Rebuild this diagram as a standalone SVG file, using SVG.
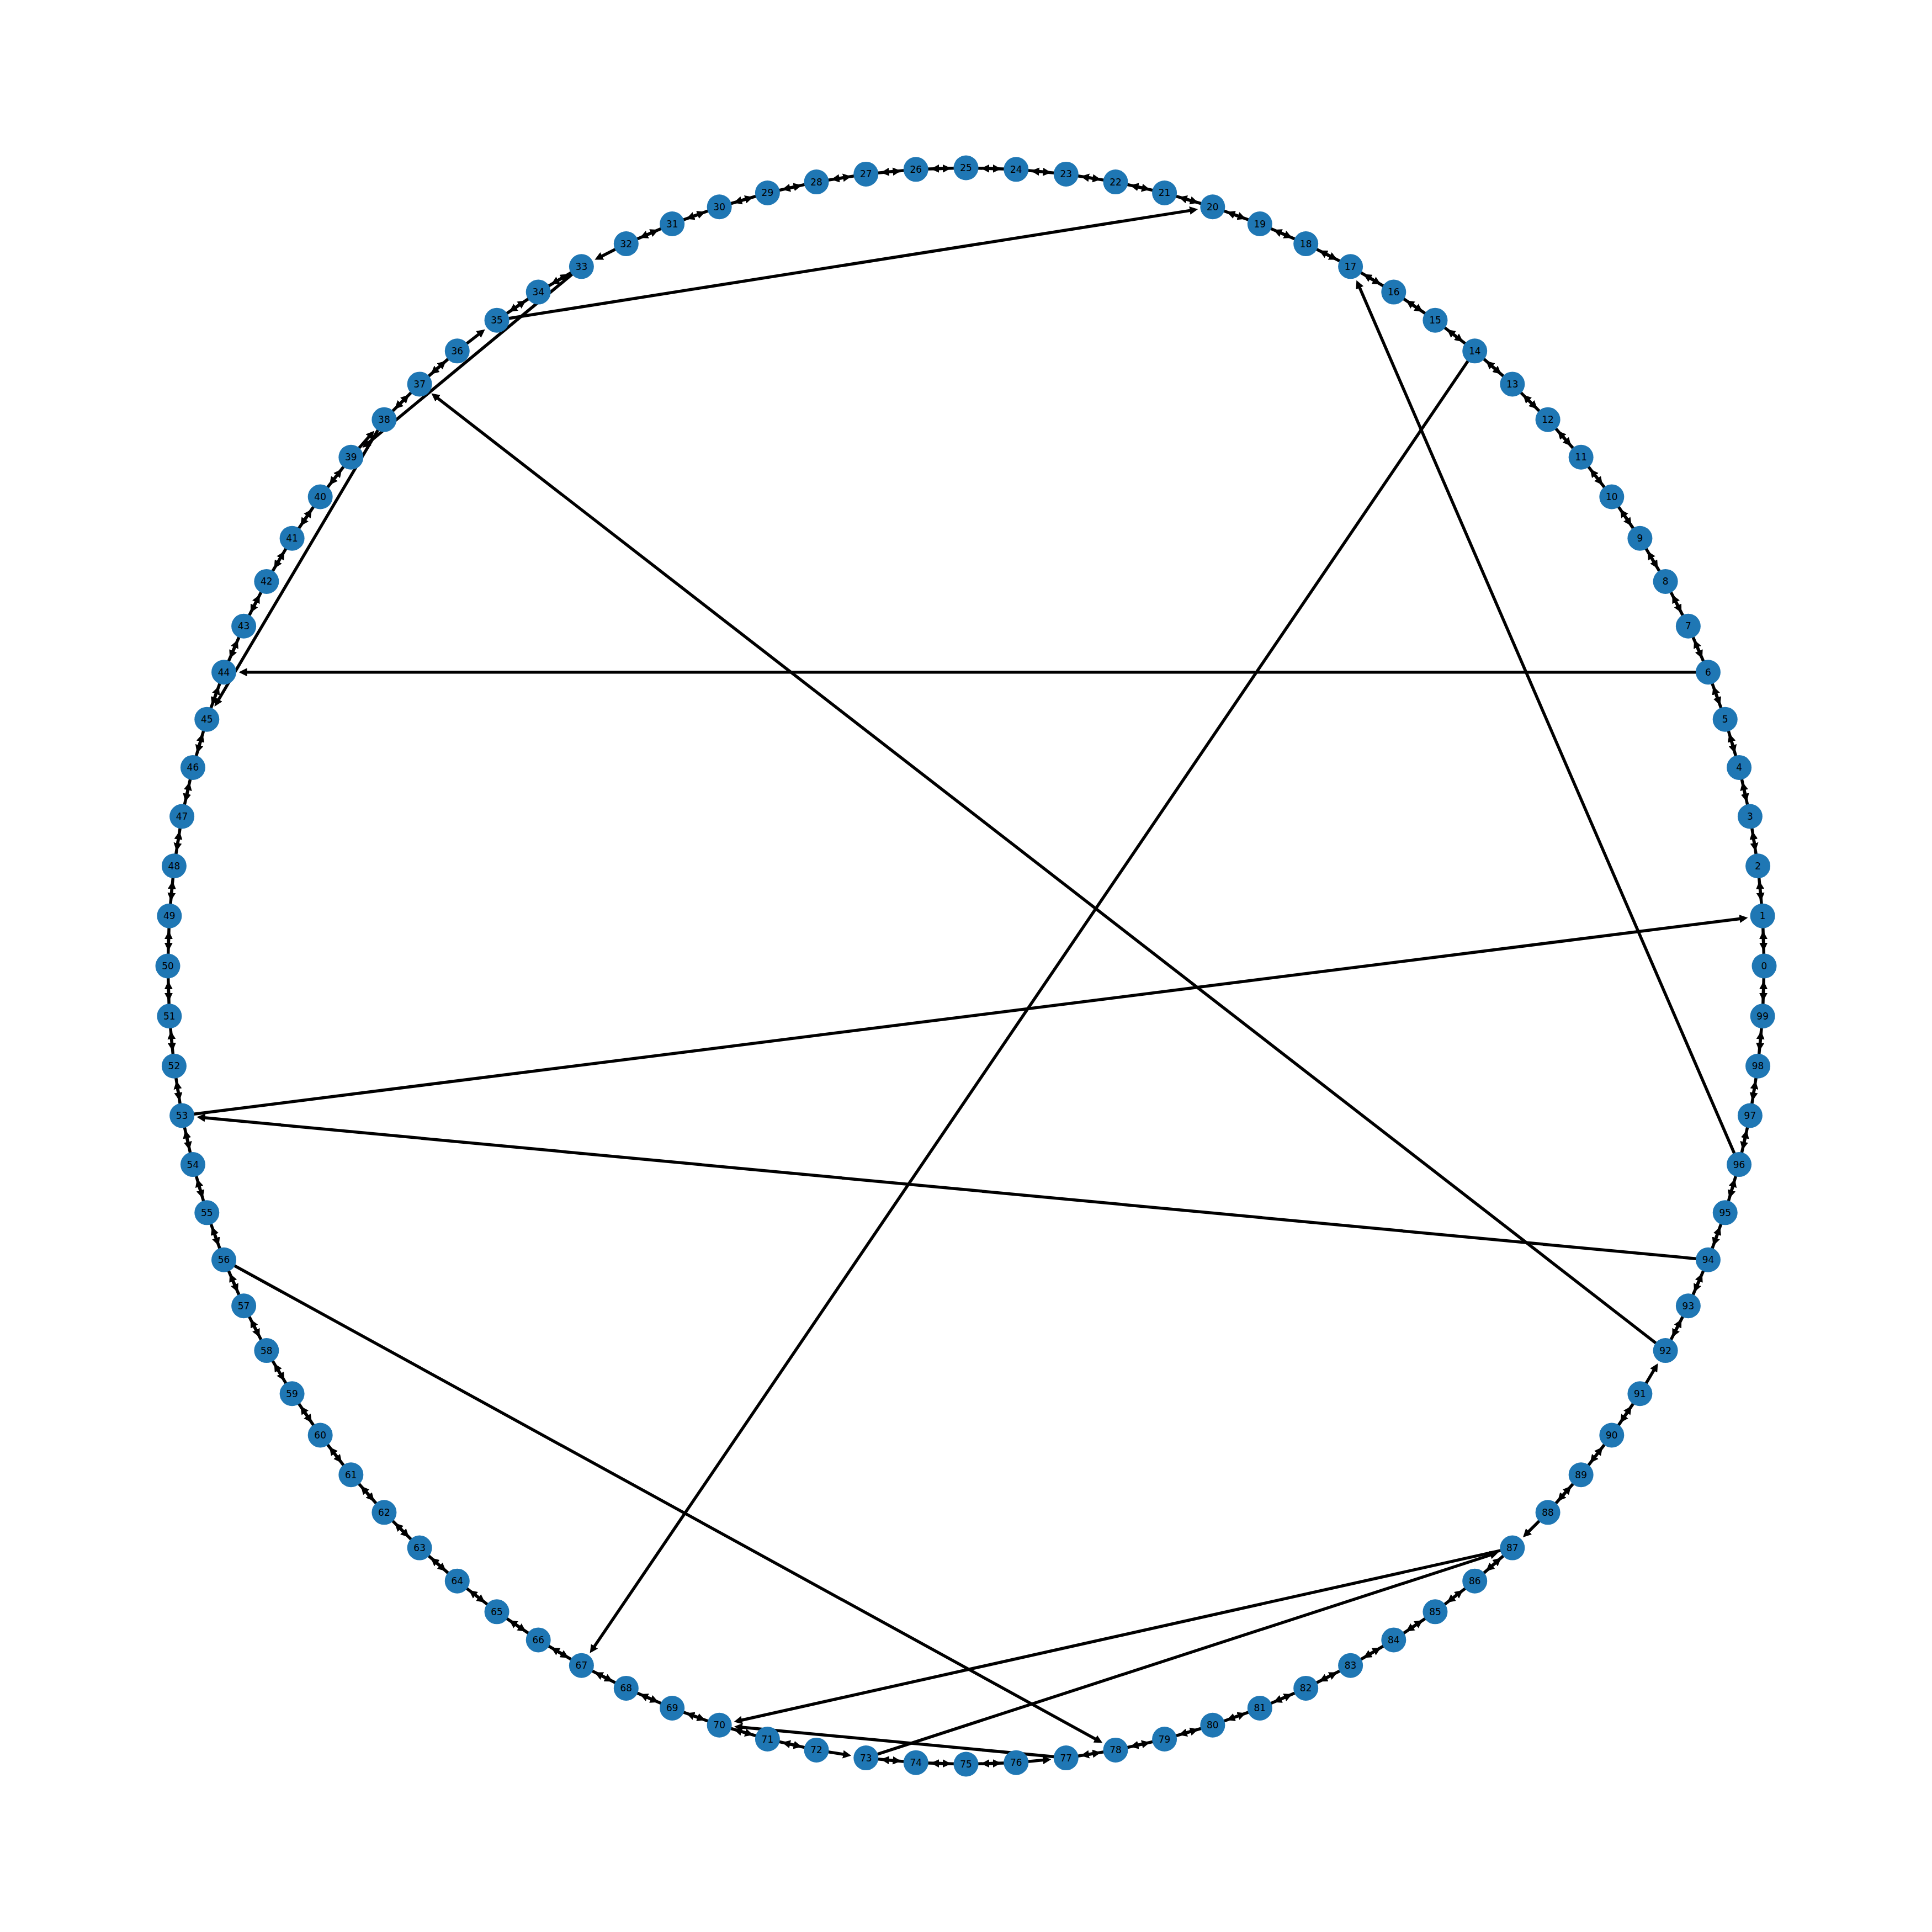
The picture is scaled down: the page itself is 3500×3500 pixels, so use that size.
<svg xmlns="http://www.w3.org/2000/svg" xmlns:xlink="http://www.w3.org/1999/xlink" width="3500" height="3500" viewBox="0 0 3500 3500">
<style>
.e{stroke:#000;stroke-width:5.5;fill:none}
.n circle{fill:#1f77b4}
.n text{font-family:"DejaVu Sans",sans-serif;font-size:17px;fill:#000;text-anchor:middle;dominant-baseline:central}
</style>
<defs>
<marker id="a" markerUnits="userSpaceOnUse" markerWidth="15" markerHeight="15" viewBox="0 0 15 15" refX="2" refY="7.5" orient="auto"><path d="M0,0 L15,7.5 L0,15 z" fill="#000"/></marker>
<line id="f" class="e" x1="3195.3" y1="1795.4" x2="3195.3" y2="1744.6" marker-end="url(#a)"/>
<line id="b" class="e" x1="3195.3" y1="1704.6" x2="3195.3" y2="1755.4" marker-end="url(#a)"/>
<g id="d"><use href="#f"/><use href="#b"/></g>
</defs>
<rect width="3500" height="3500" fill="#fff"/>
<g id="edges">
<use href="#d" transform="rotate(-1.8 1750 1750)"/>
<use href="#d" transform="rotate(-5.4 1750 1750)"/>
<use href="#d" transform="rotate(-9 1750 1750)"/>
<use href="#d" transform="rotate(-12.6 1750 1750)"/>
<use href="#d" transform="rotate(-16.2 1750 1750)"/>
<use href="#d" transform="rotate(-19.8 1750 1750)"/>
<use href="#d" transform="rotate(-23.4 1750 1750)"/>
<use href="#d" transform="rotate(-27 1750 1750)"/>
<use href="#d" transform="rotate(-30.6 1750 1750)"/>
<use href="#d" transform="rotate(-34.2 1750 1750)"/>
<use href="#d" transform="rotate(-37.8 1750 1750)"/>
<use href="#d" transform="rotate(-41.4 1750 1750)"/>
<use href="#d" transform="rotate(-45 1750 1750)"/>
<use href="#d" transform="rotate(-48.6 1750 1750)"/>
<use href="#d" transform="rotate(-52.2 1750 1750)"/>
<use href="#d" transform="rotate(-55.8 1750 1750)"/>
<use href="#d" transform="rotate(-59.4 1750 1750)"/>
<use href="#d" transform="rotate(-63 1750 1750)"/>
<use href="#d" transform="rotate(-66.6 1750 1750)"/>
<use href="#d" transform="rotate(-70.2 1750 1750)"/>
<use href="#d" transform="rotate(-73.8 1750 1750)"/>
<use href="#d" transform="rotate(-77.4 1750 1750)"/>
<use href="#d" transform="rotate(-81 1750 1750)"/>
<use href="#d" transform="rotate(-84.6 1750 1750)"/>
<use href="#d" transform="rotate(-88.2 1750 1750)"/>
<use href="#d" transform="rotate(-91.8 1750 1750)"/>
<use href="#d" transform="rotate(-95.4 1750 1750)"/>
<use href="#d" transform="rotate(-99 1750 1750)"/>
<use href="#d" transform="rotate(-102.6 1750 1750)"/>
<use href="#d" transform="rotate(-106.2 1750 1750)"/>
<use href="#d" transform="rotate(-109.8 1750 1750)"/>
<use href="#d" transform="rotate(-113.4 1750 1750)"/>
<use href="#f" transform="rotate(-117 1750 1750)"/>
<use href="#d" transform="rotate(-120.6 1750 1750)"/>
<use href="#d" transform="rotate(-124.2 1750 1750)"/>
<use href="#b" transform="rotate(-127.8 1750 1750)"/>
<use href="#d" transform="rotate(-131.4 1750 1750)"/>
<use href="#d" transform="rotate(-135 1750 1750)"/>
<use href="#b" transform="rotate(-138.6 1750 1750)"/>
<use href="#d" transform="rotate(-142.2 1750 1750)"/>
<use href="#d" transform="rotate(-145.8 1750 1750)"/>
<use href="#d" transform="rotate(-149.4 1750 1750)"/>
<use href="#d" transform="rotate(-153 1750 1750)"/>
<use href="#d" transform="rotate(-156.6 1750 1750)"/>
<use href="#d" transform="rotate(-160.2 1750 1750)"/>
<use href="#d" transform="rotate(-163.8 1750 1750)"/>
<use href="#d" transform="rotate(-167.4 1750 1750)"/>
<use href="#d" transform="rotate(-171 1750 1750)"/>
<use href="#d" transform="rotate(-174.6 1750 1750)"/>
<use href="#d" transform="rotate(-178.2 1750 1750)"/>
<use href="#d" transform="rotate(-181.8 1750 1750)"/>
<use href="#d" transform="rotate(-185.4 1750 1750)"/>
<use href="#d" transform="rotate(-189 1750 1750)"/>
<use href="#d" transform="rotate(-192.6 1750 1750)"/>
<use href="#d" transform="rotate(-196.2 1750 1750)"/>
<use href="#d" transform="rotate(-199.8 1750 1750)"/>
<use href="#d" transform="rotate(-203.4 1750 1750)"/>
<use href="#d" transform="rotate(-207 1750 1750)"/>
<use href="#d" transform="rotate(-210.6 1750 1750)"/>
<use href="#d" transform="rotate(-214.2 1750 1750)"/>
<use href="#d" transform="rotate(-217.8 1750 1750)"/>
<use href="#d" transform="rotate(-221.4 1750 1750)"/>
<use href="#d" transform="rotate(-225 1750 1750)"/>
<use href="#d" transform="rotate(-228.6 1750 1750)"/>
<use href="#d" transform="rotate(-232.2 1750 1750)"/>
<use href="#d" transform="rotate(-235.8 1750 1750)"/>
<use href="#d" transform="rotate(-239.4 1750 1750)"/>
<use href="#d" transform="rotate(-243 1750 1750)"/>
<use href="#d" transform="rotate(-246.6 1750 1750)"/>
<use href="#d" transform="rotate(-250.2 1750 1750)"/>
<use href="#d" transform="rotate(-253.8 1750 1750)"/>
<use href="#d" transform="rotate(-257.4 1750 1750)"/>
<use href="#f" transform="rotate(-261 1750 1750)"/>
<use href="#d" transform="rotate(-264.6 1750 1750)"/>
<use href="#d" transform="rotate(-268.2 1750 1750)"/>
<use href="#d" transform="rotate(-271.8 1750 1750)"/>
<use href="#f" transform="rotate(-275.4 1750 1750)"/>
<use href="#d" transform="rotate(-279 1750 1750)"/>
<use href="#d" transform="rotate(-282.6 1750 1750)"/>
<use href="#d" transform="rotate(-286.2 1750 1750)"/>
<use href="#d" transform="rotate(-289.8 1750 1750)"/>
<use href="#d" transform="rotate(-293.4 1750 1750)"/>
<use href="#d" transform="rotate(-297 1750 1750)"/>
<use href="#d" transform="rotate(-300.6 1750 1750)"/>
<use href="#d" transform="rotate(-304.2 1750 1750)"/>
<use href="#d" transform="rotate(-307.8 1750 1750)"/>
<use href="#d" transform="rotate(-311.4 1750 1750)"/>
<use href="#b" transform="rotate(-315 1750 1750)"/>
<use href="#d" transform="rotate(-318.6 1750 1750)"/>
<use href="#d" transform="rotate(-322.2 1750 1750)"/>
<use href="#d" transform="rotate(-325.8 1750 1750)"/>
<use href="#f" transform="rotate(-329.4 1750 1750)"/>
<use href="#d" transform="rotate(-333 1750 1750)"/>
<use href="#d" transform="rotate(-336.6 1750 1750)"/>
<use href="#d" transform="rotate(-340.2 1750 1750)"/>
<use href="#d" transform="rotate(-343.8 1750 1750)"/>
<use href="#d" transform="rotate(-347.4 1750 1750)"/>
<use href="#d" transform="rotate(-351 1750 1750)"/>
<use href="#d" transform="rotate(-354.6 1750 1750)"/>
<use href="#d" transform="rotate(-358.2 1750 1750)"/>
<line class="e" x1="900.1" y1="580.2" x2="2157.3" y2="381.1" marker-end="url(#a)"/>
<line class="e" x1="1053.4" y1="482.9" x2="666.6" y2="802.8" marker-end="url(#a)"/>
<line class="e" x1="695.9" y1="760.1" x2="395.2" y2="1268.8" marker-end="url(#a)"/>
<line class="e" x1="3094.5" y1="1217.7" x2="445.5" y2="1217.7" marker-end="url(#a)"/>
<line class="e" x1="3017.1" y1="2446.6" x2="791.7" y2="720.4" marker-end="url(#a)"/>
<line class="e" x1="3150.6" y1="2109.6" x2="2462.5" y2="519.6" marker-end="url(#a)"/>
<line class="e" x1="2671.7" y1="635.8" x2="1075.9" y2="2984.0" marker-end="url(#a)"/>
<line class="e" x1="329.6" y1="2021.0" x2="3153.5" y2="1664.2" marker-end="url(#a)"/>
<line class="e" x1="3094.5" y1="2282.3" x2="369.4" y2="2024.8" marker-end="url(#a)"/>
<line class="e" x1="405.5" y1="2282.3" x2="1985.8" y2="3151.1" marker-end="url(#a)"/>
<line class="e" x1="2739.9" y1="2804.1" x2="1342.2" y2="3116.5" marker-end="url(#a)"/>
<line class="e" x1="1568.8" y1="3184.6" x2="2701.9" y2="2816.5" marker-end="url(#a)"/>
<line class="e" x1="1931.2" y1="3184.6" x2="1343.0" y2="3129.0" marker-end="url(#a)"/>
</g>
<g id="nodes">
<g id="n0" class="n" transform="rotate(0 1750 1750) translate(3196 1750) rotate(0)"><circle r="22.5"/><text>0</text></g>
<g id="n1" class="n" transform="rotate(-3.6 1750 1750) translate(3196 1750) rotate(3.6)"><circle r="22.5"/><text>1</text></g>
<g id="n2" class="n" transform="rotate(-7.2 1750 1750) translate(3196 1750) rotate(7.2)"><circle r="22.5"/><text>2</text></g>
<g id="n3" class="n" transform="rotate(-10.8 1750 1750) translate(3196 1750) rotate(10.8)"><circle r="22.5"/><text>3</text></g>
<g id="n4" class="n" transform="rotate(-14.4 1750 1750) translate(3196 1750) rotate(14.4)"><circle r="22.5"/><text>4</text></g>
<g id="n5" class="n" transform="rotate(-18 1750 1750) translate(3196 1750) rotate(18)"><circle r="22.5"/><text>5</text></g>
<g id="n6" class="n" transform="rotate(-21.6 1750 1750) translate(3196 1750) rotate(21.6)"><circle r="22.5"/><text>6</text></g>
<g id="n7" class="n" transform="rotate(-25.2 1750 1750) translate(3196 1750) rotate(25.2)"><circle r="22.5"/><text>7</text></g>
<g id="n8" class="n" transform="rotate(-28.8 1750 1750) translate(3196 1750) rotate(28.8)"><circle r="22.5"/><text>8</text></g>
<g id="n9" class="n" transform="rotate(-32.4 1750 1750) translate(3196 1750) rotate(32.4)"><circle r="22.5"/><text>9</text></g>
<g id="n10" class="n" transform="rotate(-36 1750 1750) translate(3196 1750) rotate(36)"><circle r="22.5"/><text>10</text></g>
<g id="n11" class="n" transform="rotate(-39.6 1750 1750) translate(3196 1750) rotate(39.6)"><circle r="22.5"/><text>11</text></g>
<g id="n12" class="n" transform="rotate(-43.2 1750 1750) translate(3196 1750) rotate(43.2)"><circle r="22.5"/><text>12</text></g>
<g id="n13" class="n" transform="rotate(-46.8 1750 1750) translate(3196 1750) rotate(46.8)"><circle r="22.5"/><text>13</text></g>
<g id="n14" class="n" transform="rotate(-50.4 1750 1750) translate(3196 1750) rotate(50.4)"><circle r="22.5"/><text>14</text></g>
<g id="n15" class="n" transform="rotate(-54 1750 1750) translate(3196 1750) rotate(54)"><circle r="22.5"/><text>15</text></g>
<g id="n16" class="n" transform="rotate(-57.6 1750 1750) translate(3196 1750) rotate(57.6)"><circle r="22.5"/><text>16</text></g>
<g id="n17" class="n" transform="rotate(-61.2 1750 1750) translate(3196 1750) rotate(61.2)"><circle r="22.5"/><text>17</text></g>
<g id="n18" class="n" transform="rotate(-64.8 1750 1750) translate(3196 1750) rotate(64.8)"><circle r="22.5"/><text>18</text></g>
<g id="n19" class="n" transform="rotate(-68.4 1750 1750) translate(3196 1750) rotate(68.4)"><circle r="22.5"/><text>19</text></g>
<g id="n20" class="n" transform="rotate(-72 1750 1750) translate(3196 1750) rotate(72)"><circle r="22.5"/><text>20</text></g>
<g id="n21" class="n" transform="rotate(-75.6 1750 1750) translate(3196 1750) rotate(75.6)"><circle r="22.5"/><text>21</text></g>
<g id="n22" class="n" transform="rotate(-79.2 1750 1750) translate(3196 1750) rotate(79.2)"><circle r="22.5"/><text>22</text></g>
<g id="n23" class="n" transform="rotate(-82.8 1750 1750) translate(3196 1750) rotate(82.8)"><circle r="22.5"/><text>23</text></g>
<g id="n24" class="n" transform="rotate(-86.4 1750 1750) translate(3196 1750) rotate(86.4)"><circle r="22.5"/><text>24</text></g>
<g id="n25" class="n" transform="rotate(-90 1750 1750) translate(3196 1750) rotate(90)"><circle r="22.5"/><text>25</text></g>
<g id="n26" class="n" transform="rotate(-93.6 1750 1750) translate(3196 1750) rotate(93.6)"><circle r="22.5"/><text>26</text></g>
<g id="n27" class="n" transform="rotate(-97.2 1750 1750) translate(3196 1750) rotate(97.2)"><circle r="22.5"/><text>27</text></g>
<g id="n28" class="n" transform="rotate(-100.8 1750 1750) translate(3196 1750) rotate(100.8)"><circle r="22.5"/><text>28</text></g>
<g id="n29" class="n" transform="rotate(-104.4 1750 1750) translate(3196 1750) rotate(104.4)"><circle r="22.5"/><text>29</text></g>
<g id="n30" class="n" transform="rotate(-108 1750 1750) translate(3196 1750) rotate(108)"><circle r="22.5"/><text>30</text></g>
<g id="n31" class="n" transform="rotate(-111.6 1750 1750) translate(3196 1750) rotate(111.6)"><circle r="22.5"/><text>31</text></g>
<g id="n32" class="n" transform="rotate(-115.2 1750 1750) translate(3196 1750) rotate(115.2)"><circle r="22.5"/><text>32</text></g>
<g id="n33" class="n" transform="rotate(-118.8 1750 1750) translate(3196 1750) rotate(118.8)"><circle r="22.5"/><text>33</text></g>
<g id="n34" class="n" transform="rotate(-122.4 1750 1750) translate(3196 1750) rotate(122.4)"><circle r="22.5"/><text>34</text></g>
<g id="n35" class="n" transform="rotate(-126 1750 1750) translate(3196 1750) rotate(126)"><circle r="22.5"/><text>35</text></g>
<g id="n36" class="n" transform="rotate(-129.6 1750 1750) translate(3196 1750) rotate(129.6)"><circle r="22.5"/><text>36</text></g>
<g id="n37" class="n" transform="rotate(-133.2 1750 1750) translate(3196 1750) rotate(133.2)"><circle r="22.5"/><text>37</text></g>
<g id="n38" class="n" transform="rotate(-136.8 1750 1750) translate(3196 1750) rotate(136.8)"><circle r="22.5"/><text>38</text></g>
<g id="n39" class="n" transform="rotate(-140.4 1750 1750) translate(3196 1750) rotate(140.4)"><circle r="22.5"/><text>39</text></g>
<g id="n40" class="n" transform="rotate(-144 1750 1750) translate(3196 1750) rotate(144)"><circle r="22.5"/><text>40</text></g>
<g id="n41" class="n" transform="rotate(-147.6 1750 1750) translate(3196 1750) rotate(147.6)"><circle r="22.5"/><text>41</text></g>
<g id="n42" class="n" transform="rotate(-151.2 1750 1750) translate(3196 1750) rotate(151.2)"><circle r="22.5"/><text>42</text></g>
<g id="n43" class="n" transform="rotate(-154.8 1750 1750) translate(3196 1750) rotate(154.8)"><circle r="22.5"/><text>43</text></g>
<g id="n44" class="n" transform="rotate(-158.4 1750 1750) translate(3196 1750) rotate(158.4)"><circle r="22.5"/><text>44</text></g>
<g id="n45" class="n" transform="rotate(-162 1750 1750) translate(3196 1750) rotate(162)"><circle r="22.5"/><text>45</text></g>
<g id="n46" class="n" transform="rotate(-165.6 1750 1750) translate(3196 1750) rotate(165.6)"><circle r="22.5"/><text>46</text></g>
<g id="n47" class="n" transform="rotate(-169.2 1750 1750) translate(3196 1750) rotate(169.2)"><circle r="22.5"/><text>47</text></g>
<g id="n48" class="n" transform="rotate(-172.8 1750 1750) translate(3196 1750) rotate(172.8)"><circle r="22.5"/><text>48</text></g>
<g id="n49" class="n" transform="rotate(-176.4 1750 1750) translate(3196 1750) rotate(176.4)"><circle r="22.5"/><text>49</text></g>
<g id="n50" class="n" transform="rotate(-180 1750 1750) translate(3196 1750) rotate(180)"><circle r="22.5"/><text>50</text></g>
<g id="n51" class="n" transform="rotate(-183.6 1750 1750) translate(3196 1750) rotate(183.6)"><circle r="22.5"/><text>51</text></g>
<g id="n52" class="n" transform="rotate(-187.2 1750 1750) translate(3196 1750) rotate(187.2)"><circle r="22.5"/><text>52</text></g>
<g id="n53" class="n" transform="rotate(-190.8 1750 1750) translate(3196 1750) rotate(190.8)"><circle r="22.5"/><text>53</text></g>
<g id="n54" class="n" transform="rotate(-194.4 1750 1750) translate(3196 1750) rotate(194.4)"><circle r="22.5"/><text>54</text></g>
<g id="n55" class="n" transform="rotate(-198 1750 1750) translate(3196 1750) rotate(198)"><circle r="22.5"/><text>55</text></g>
<g id="n56" class="n" transform="rotate(-201.6 1750 1750) translate(3196 1750) rotate(201.6)"><circle r="22.5"/><text>56</text></g>
<g id="n57" class="n" transform="rotate(-205.2 1750 1750) translate(3196 1750) rotate(205.2)"><circle r="22.5"/><text>57</text></g>
<g id="n58" class="n" transform="rotate(-208.8 1750 1750) translate(3196 1750) rotate(208.8)"><circle r="22.5"/><text>58</text></g>
<g id="n59" class="n" transform="rotate(-212.4 1750 1750) translate(3196 1750) rotate(212.4)"><circle r="22.5"/><text>59</text></g>
<g id="n60" class="n" transform="rotate(-216 1750 1750) translate(3196 1750) rotate(216)"><circle r="22.5"/><text>60</text></g>
<g id="n61" class="n" transform="rotate(-219.6 1750 1750) translate(3196 1750) rotate(219.6)"><circle r="22.5"/><text>61</text></g>
<g id="n62" class="n" transform="rotate(-223.2 1750 1750) translate(3196 1750) rotate(223.2)"><circle r="22.5"/><text>62</text></g>
<g id="n63" class="n" transform="rotate(-226.8 1750 1750) translate(3196 1750) rotate(226.8)"><circle r="22.5"/><text>63</text></g>
<g id="n64" class="n" transform="rotate(-230.4 1750 1750) translate(3196 1750) rotate(230.4)"><circle r="22.5"/><text>64</text></g>
<g id="n65" class="n" transform="rotate(-234 1750 1750) translate(3196 1750) rotate(234)"><circle r="22.5"/><text>65</text></g>
<g id="n66" class="n" transform="rotate(-237.6 1750 1750) translate(3196 1750) rotate(237.6)"><circle r="22.5"/><text>66</text></g>
<g id="n67" class="n" transform="rotate(-241.2 1750 1750) translate(3196 1750) rotate(241.2)"><circle r="22.5"/><text>67</text></g>
<g id="n68" class="n" transform="rotate(-244.8 1750 1750) translate(3196 1750) rotate(244.8)"><circle r="22.5"/><text>68</text></g>
<g id="n69" class="n" transform="rotate(-248.4 1750 1750) translate(3196 1750) rotate(248.4)"><circle r="22.5"/><text>69</text></g>
<g id="n70" class="n" transform="rotate(-252 1750 1750) translate(3196 1750) rotate(252)"><circle r="22.5"/><text>70</text></g>
<g id="n71" class="n" transform="rotate(-255.6 1750 1750) translate(3196 1750) rotate(255.6)"><circle r="22.5"/><text>71</text></g>
<g id="n72" class="n" transform="rotate(-259.2 1750 1750) translate(3196 1750) rotate(259.2)"><circle r="22.5"/><text>72</text></g>
<g id="n73" class="n" transform="rotate(-262.8 1750 1750) translate(3196 1750) rotate(262.8)"><circle r="22.5"/><text>73</text></g>
<g id="n74" class="n" transform="rotate(-266.4 1750 1750) translate(3196 1750) rotate(266.4)"><circle r="22.5"/><text>74</text></g>
<g id="n75" class="n" transform="rotate(-270 1750 1750) translate(3196 1750) rotate(270)"><circle r="22.5"/><text>75</text></g>
<g id="n76" class="n" transform="rotate(-273.6 1750 1750) translate(3196 1750) rotate(273.6)"><circle r="22.5"/><text>76</text></g>
<g id="n77" class="n" transform="rotate(-277.2 1750 1750) translate(3196 1750) rotate(277.2)"><circle r="22.5"/><text>77</text></g>
<g id="n78" class="n" transform="rotate(-280.8 1750 1750) translate(3196 1750) rotate(280.8)"><circle r="22.5"/><text>78</text></g>
<g id="n79" class="n" transform="rotate(-284.4 1750 1750) translate(3196 1750) rotate(284.4)"><circle r="22.5"/><text>79</text></g>
<g id="n80" class="n" transform="rotate(-288 1750 1750) translate(3196 1750) rotate(288)"><circle r="22.5"/><text>80</text></g>
<g id="n81" class="n" transform="rotate(-291.6 1750 1750) translate(3196 1750) rotate(291.6)"><circle r="22.5"/><text>81</text></g>
<g id="n82" class="n" transform="rotate(-295.2 1750 1750) translate(3196 1750) rotate(295.2)"><circle r="22.5"/><text>82</text></g>
<g id="n83" class="n" transform="rotate(-298.8 1750 1750) translate(3196 1750) rotate(298.8)"><circle r="22.5"/><text>83</text></g>
<g id="n84" class="n" transform="rotate(-302.4 1750 1750) translate(3196 1750) rotate(302.4)"><circle r="22.5"/><text>84</text></g>
<g id="n85" class="n" transform="rotate(-306 1750 1750) translate(3196 1750) rotate(306)"><circle r="22.5"/><text>85</text></g>
<g id="n86" class="n" transform="rotate(-309.6 1750 1750) translate(3196 1750) rotate(309.6)"><circle r="22.5"/><text>86</text></g>
<g id="n87" class="n" transform="rotate(-313.2 1750 1750) translate(3196 1750) rotate(313.2)"><circle r="22.5"/><text>87</text></g>
<g id="n88" class="n" transform="rotate(-316.8 1750 1750) translate(3196 1750) rotate(316.8)"><circle r="22.5"/><text>88</text></g>
<g id="n89" class="n" transform="rotate(-320.4 1750 1750) translate(3196 1750) rotate(320.4)"><circle r="22.5"/><text>89</text></g>
<g id="n90" class="n" transform="rotate(-324 1750 1750) translate(3196 1750) rotate(324)"><circle r="22.5"/><text>90</text></g>
<g id="n91" class="n" transform="rotate(-327.6 1750 1750) translate(3196 1750) rotate(327.6)"><circle r="22.5"/><text>91</text></g>
<g id="n92" class="n" transform="rotate(-331.2 1750 1750) translate(3196 1750) rotate(331.2)"><circle r="22.5"/><text>92</text></g>
<g id="n93" class="n" transform="rotate(-334.8 1750 1750) translate(3196 1750) rotate(334.8)"><circle r="22.5"/><text>93</text></g>
<g id="n94" class="n" transform="rotate(-338.4 1750 1750) translate(3196 1750) rotate(338.4)"><circle r="22.5"/><text>94</text></g>
<g id="n95" class="n" transform="rotate(-342 1750 1750) translate(3196 1750) rotate(342)"><circle r="22.5"/><text>95</text></g>
<g id="n96" class="n" transform="rotate(-345.6 1750 1750) translate(3196 1750) rotate(345.6)"><circle r="22.5"/><text>96</text></g>
<g id="n97" class="n" transform="rotate(-349.2 1750 1750) translate(3196 1750) rotate(349.2)"><circle r="22.5"/><text>97</text></g>
<g id="n98" class="n" transform="rotate(-352.8 1750 1750) translate(3196 1750) rotate(352.8)"><circle r="22.5"/><text>98</text></g>
<g id="n99" class="n" transform="rotate(-356.4 1750 1750) translate(3196 1750) rotate(356.4)"><circle r="22.5"/><text>99</text></g>
</g>
</svg>
